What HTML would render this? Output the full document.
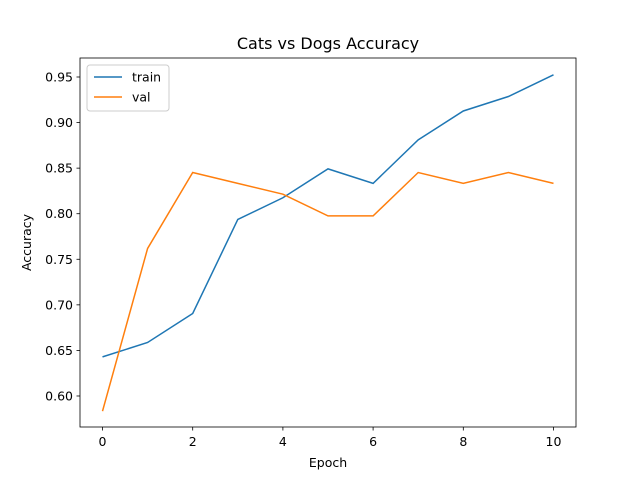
<!DOCTYPE html>
<html><head><meta charset="utf-8"><style>
body{margin:0;background:#fff}
svg text{font-family:"DejaVu Sans","Liberation Sans",sans-serif;fill:#000}
</style></head><body>
<svg id="chart" width="640" height="480" viewBox="0 0 640 480">
<rect x="0" y="0" width="640" height="480" fill="#fff"/>
<text x="328" y="49" font-size="16" text-anchor="middle">Cats vs Dogs Accuracy</text>
<g id="plot"></g>
<rect x="80" y="58" width="496" height="369" fill="none" stroke="#000" stroke-width="0.8"/>
<text x="328" y="467" font-size="12.5" text-anchor="middle">Epoch</text>
<text transform="translate(31,242.5) rotate(-90)" font-size="12.5" text-anchor="middle">Accuracy</text>
<g>
<rect x="87" y="65" width="82" height="46" rx="3" fill="#fff" fill-opacity="0.8" stroke="#ccc"/>
<line x1="94" y1="77" x2="122" y2="77" stroke="#1f77b4" stroke-width="1.5"/>
<text x="132" y="81.5" font-size="12.5">train</text>
<line x1="94" y1="97" x2="122" y2="97" stroke="#ff7f0e" stroke-width="1.5"/>
<text x="132" y="101.5" font-size="12.5">val</text>
</g>
</svg>
<script>
const epochs=[0,1,2,3,4,5,6,7,8,9,10];
const trainAcc=[0.6429,0.6587,0.6905,0.7937,0.8175,0.8492,0.8333,0.8810,0.9127,0.9286,0.9524];
const valAcc=[0.5833,0.7619,0.8452,0.8333,0.8214,0.7976,0.7976,0.8452,0.8333,0.8452,0.8333];
const xTicks=[0,2,4,6,8,10];
const yTicks=[0.60,0.65,0.70,0.75,0.80,0.85,0.90,0.95];
const xs=v=>102.5+v*45.1;
const ys=v=>77-(v-0.95)*911.4;
const NS="http://www.w3.org/2000/svg";
const g=document.getElementById('plot');
function mk(t,a){const e=document.createElementNS(NS,t);for(const k in a)e.setAttribute(k,a[k]);g.appendChild(e);return e;}
xTicks.forEach(t=>{
 const l=mk('line',{x1:xs(t),x2:xs(t),y1:427,y2:430.5,stroke:'#000','stroke-width':0.8});
 
 
 const tx=mk('text',{x:xs(t),y:446,'font-size':12.5,'text-anchor':'middle'});tx.textContent=t;
 
 
});
yTicks.forEach(t=>{
 const l=mk('line',{x1:76.5,x2:80,y1:ys(t),y2:ys(t),stroke:'#000','stroke-width':0.8});
 
 
 const tx=mk('text',{x:73,y:ys(t)+4.5,'font-size':12.5,'text-anchor':'end'});tx.textContent=t.toFixed(2);
 
 
});
function line(data,color,name){
 const p=mk('polyline',{points:data.map((v,i)=>xs(epochs[i])+','+ys(v)).join(' '),fill:'none',stroke:color,'stroke-width':1.5});
 
 
}
line(trainAcc,'#1f77b4','train-line');
line(valAcc,'#ff7f0e','val-line');
</script>
</body></html>
